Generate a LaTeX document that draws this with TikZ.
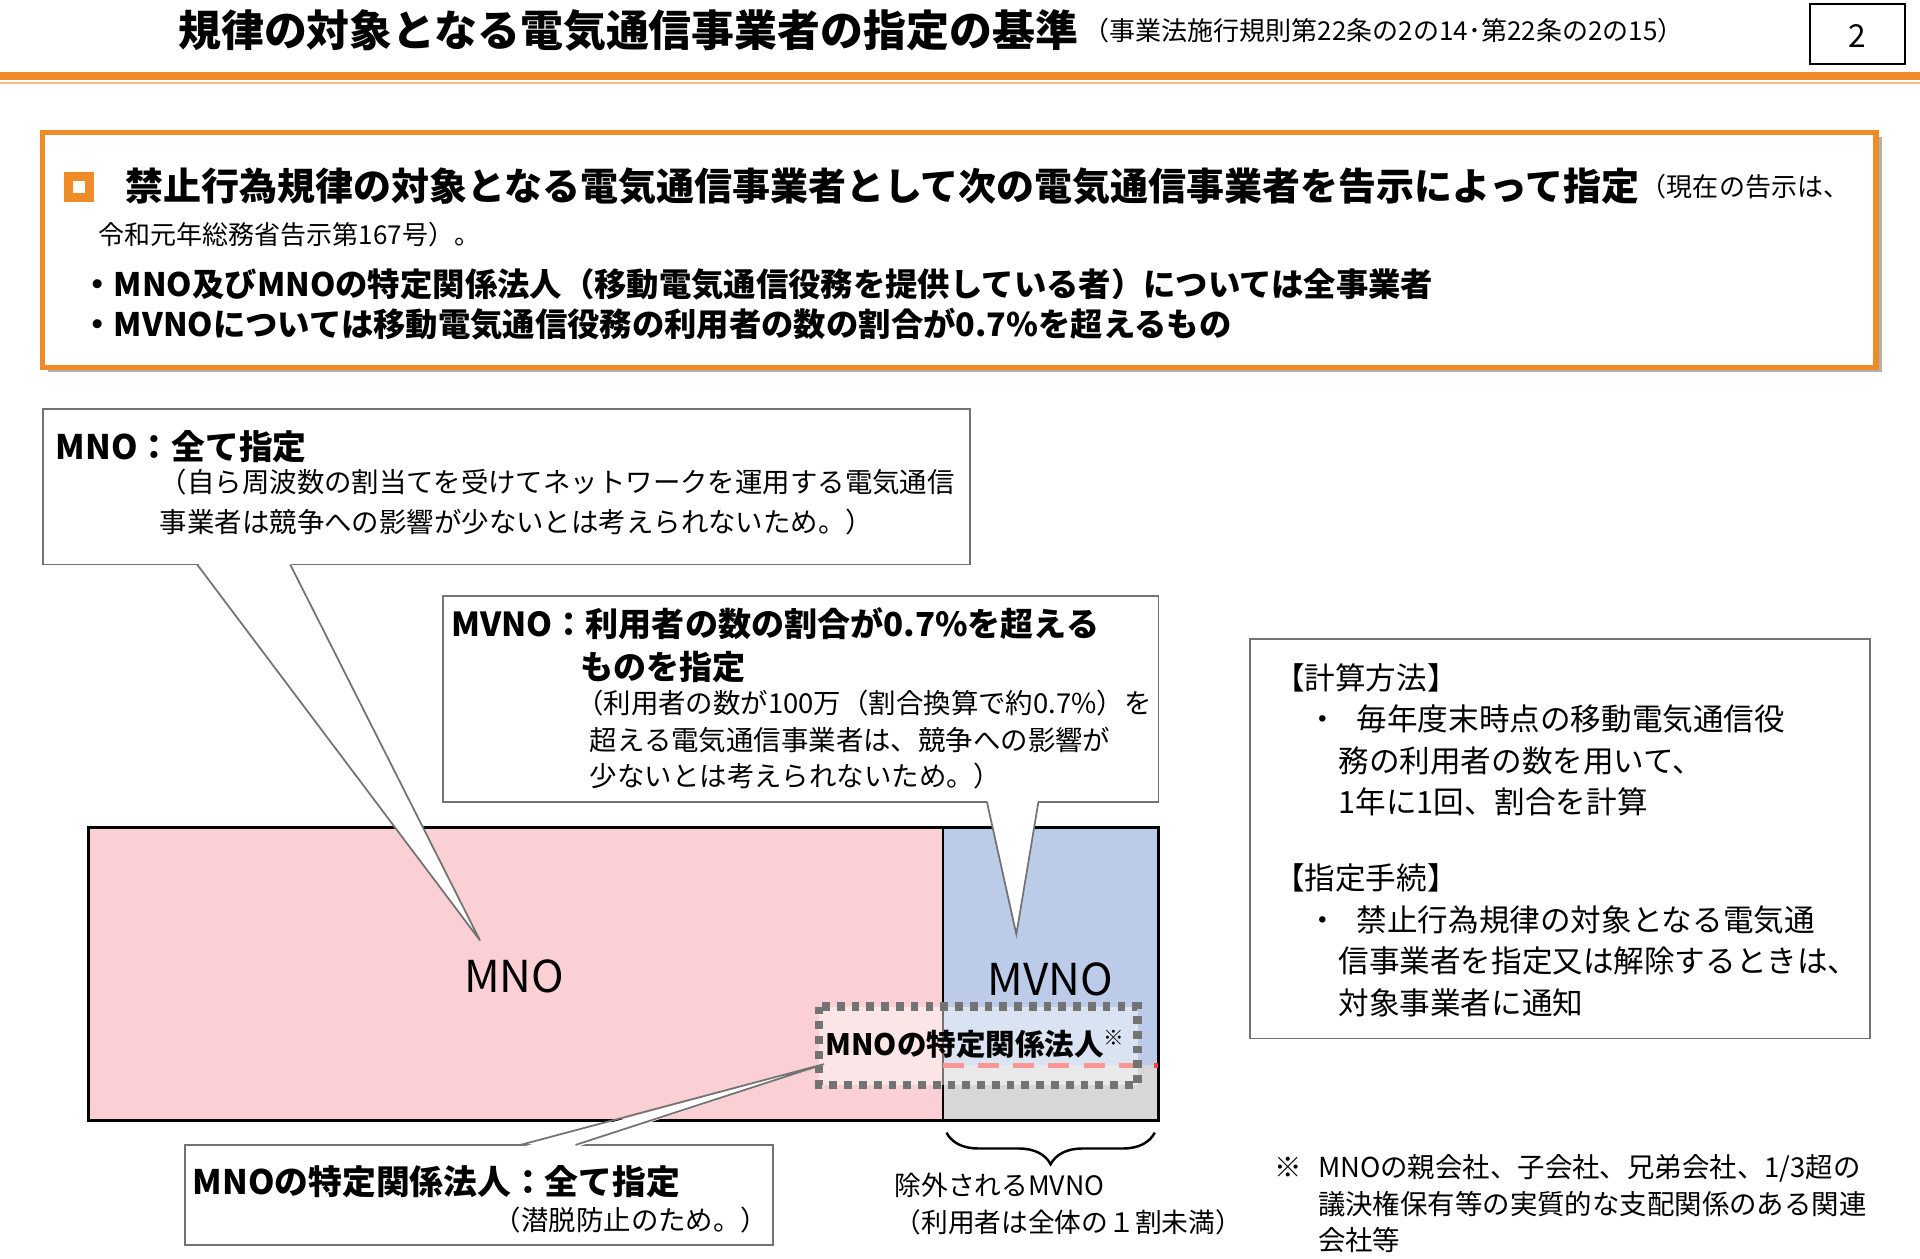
\documentclass[tikz,border=0pt]{standalone}
\usepackage{fontspec}
\setmainfont{Noto Sans CJK JP}
\usetikzlibrary{decorations.pathreplacing}
\definecolor{org}{RGB}{240,140,40}
\definecolor{pinkf}{RGB}{250,208,212}
\definecolor{bluef}{RGB}{188,204,232}
\definecolor{grayf}{RGB}{215,215,215}
\begin{document}
\begin{tikzpicture}[x=0.012245cm,y=-0.012245cm,
 box/.style={draw=black!55,fill=white,line width=0.5pt},
 t/.style={anchor=west,inner sep=0pt,align=left}]
\useasboundingbox (0,0) rectangle (1568,1027.5);
% title
\node[t,font=\bfseries\fontsize{12.2}{15}\selectfont] (title) at (145,25) {規律の対象となる電気通信事業者の指定の基準};
\node[t,font=\fontsize{7.4}{9}\selectfont] (sub) at (title.east) {\,（事業法施行規則第22条の2の14･第22条の2の15）};
\draw[line width=0.6pt] (1478,3) rectangle (1556,52);
\node[font=\fontsize{9}{10}\selectfont] (pg) at (1517,29) {2};
\fill[org] (0,59) rectangle (1568,65);
\fill[org!60] (0,67) rectangle (1568,69);
% main box
\fill[black!30] (39,112) rectangle (1537,304);
\draw[draw=org,fill=white,line width=1.5pt] (35,108) rectangle (1532,300);
\draw[org,line width=2.5pt] (56,144) rectangle (73,161);
\node[t,font=\bfseries\fontsize{10.8}{14}\selectfont] (l1) at (102,152) {禁止行為規律の対象となる電気通信事業者として次の電気通信事業者を告示によって指定};
\node[t,font=\fontsize{7.4}{9}\selectfont] (l1b) at (l1.east) {（現在の告示は、};
\node[t,font=\fontsize{7.4}{9}\selectfont] (l2) at (80,192) {令和元年総務省告示第167号）。};
\node[t,font=\bfseries\fontsize{9.2}{11}\selectfont] (b1) at (66,232) {・MNO及びMNOの特定関係法人（移動電気通信役務を提供している者）については全事業者};
\node[t,font=\bfseries\fontsize{9.2}{11}\selectfont] (b2) at (66,265) {・MVNOについては移動電気通信役務の利用者の数の割合が0.7\%を超えるもの};
% bar
\fill[pinkf] (72,676) rectangle (770,915);
\fill[bluef] (770,676) rectangle (946,870);
\fill[grayf] (770,870) rectangle (946,915);
\draw[line width=0.9pt] (72,676) rectangle (946,915);
\draw[line width=0.7pt] (770,676) -- (770,915);
\draw[red!75,dash pattern=on 6pt off 4pt,line width=1.5pt] (770,870) -- (946,870);
\node[font=\fontsize{12.5}{14}\selectfont] (mno) at (420,797) {MNO};
\node[font=\fontsize{12.5}{14}\selectfont] (mvno) at (858,800) {MVNO};
\draw[black!55,dash pattern=on 2.2pt off 2pt,line width=2.4pt,fill=white,fill opacity=0.45] (669,822) rectangle (929,886);
\node[font=\bfseries\fontsize{8.4}{10}\selectfont] (rel) at (797,853) {MNOの特定関係法人\textsuperscript{※}};
% MNO callout
\draw[box] (35,334) rectangle (792,461);
\fill[white] (161,459) -- (392,768) -- (237,459) -- cycle;
\draw[black!55,line width=0.5pt] (161,461) -- (392,768) -- (237,461);
\node[t,font=\bfseries\fontsize{9.6}{11}\selectfont] (c1) at (45,365) {MNO：全て指定};
\node[t,font=\fontsize{7.8}{11.5}\selectfont] (c1b) at (130,410) {（自ら周波数の割当てを受けてネットワークを運用する電気通信\\事業者は競争への影響が少ないとは考えられないため。）};
% MVNO callout
\draw[box] (362,487) rectangle (946,655);
\fill[white] (806,653) -- (830,763) -- (848,653) -- cycle;
\draw[black!55,line width=0.5pt] (806,655) -- (830,763) -- (848,655);
\node[t,font=\bfseries\fontsize{9.4}{12.2}\selectfont] (c2) at (368,527) {MVNO：利用者の数の割合が0.7\%を超える\\\hspace*{3.9em}ものを指定};
\node[t,font=\fontsize{7.8}{10.3}\selectfont] (c2b) at (470,604) {（利用者の数が100万（割合換算で約0.7\%）を\\\hspace*{0.5em}超える電気通信事業者は、競争への影響が\\\hspace*{0.5em}少ないとは考えられないため。）};
% bottom callout
\draw[box] (151,935) rectangle (631,1017);
\fill[white] (425,937) -- (673,869) -- (470,937) -- cycle;
\draw[black!55,line width=0.5pt] (425,935) -- (673,869) -- (470,935);
\node[t,font=\bfseries\fontsize{9.6}{11}\selectfont] (c3) at (157,965) {MNOの特定関係法人：全て指定};
\node[anchor=east,inner sep=0pt,font=\fontsize{7.8}{9}\selectfont] (c3b) at (628,996) {（潜脱防止のため。）};
% brace
\draw[decorate,decoration={brace,amplitude=9pt,mirror},line width=0.7pt] (773,925) -- (943,925);
\node[t,font=\fontsize{7.6}{10.6}\selectfont] (ex) at (730,983) {除外されるMVNO\\（利用者は全体の１割未満）};
% right box
\draw[box] (1021,522) rectangle (1527,848);
\node[t,font=\fontsize{8.7}{11.8}\selectfont] (r1) at (1040,604) {【計算方法】\\\hspace*{1.1em}・\hspace{0.6em}毎年度末時点の移動電気通信役\\\hspace*{2.1em}務の利用者の数を用いて、\\\hspace*{2.1em}1年に1回、割合を計算};
\node[t,font=\fontsize{8.7}{11.8}\selectfont] (r2) at (1040,768) {【指定手続】\\\hspace*{1.1em}・\hspace{0.6em}禁止行為規律の対象となる電気通\\\hspace*{2.1em}信事業者を指定又は解除するときは、\\\hspace*{2.1em}対象事業者に通知};
\node[t,font=\fontsize{7.8}{10.4}\selectfont] (fn) at (1040,983) {※\hspace{0.6em}MNOの親会社、子会社、兄弟会社、1/3超の\\\hspace*{1.6em}議決権保有等の実質的な支配関係のある関連\\\hspace*{1.6em}会社等};
\end{tikzpicture}
\end{document}
